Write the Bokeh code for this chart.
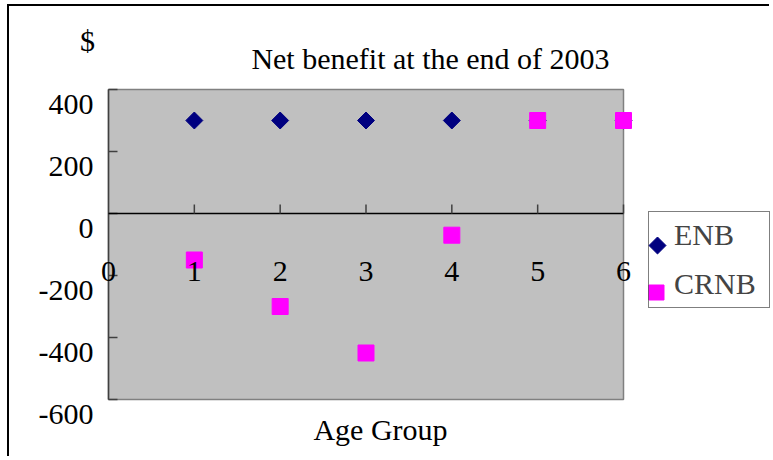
import math
from bokeh.plotting import figure
from bokeh.models import Legend, LegendItem, Range1d
from bokeh.core.properties import value
from bokeh.embed import file_html
from bokeh.resources import INLINE

# ---- data ----
age_group = [1, 2, 3, 4, 5, 6]
enb = [300, 300, 300, 300, 300, 300]
crnb = [-150, -300, -450, -70, 300, 300]
x_ticks = [0, 1, 2, 3, 4, 5, 6]
x_tick_labels = ["0", "1", "2", "3", "4", "5", "6"]
y_ticks = [400, 200, 0, -200, -400, -600]
y_tick_labels = ["400", "200", "0", "-200", "-400", "-600"]
title_text = "Net benefit at the end of 2003"
y_unit_text = "$"
x_title_text = "Age Group"
series_names = ["ENB", "CRNB"]

# ---- layout (pixels) ----
X_MIN, X_MAX = 0, 6
Y_MIN, Y_MAX = -600, 400
W, H = 762, 452            # canvas size
OX, OY = 9, 6              # canvas origin on the page
PLOT_L, PLOT_R = 108, 623  # plot area on the page
PLOT_T, PLOT_B = 89, 399

sx = (PLOT_R - PLOT_L) / (X_MAX - X_MIN)
sy = (PLOT_B - PLOT_T) / (Y_MAX - Y_MIN)
x_start = X_MIN - (PLOT_L - OX) / sx
y_end = Y_MAX + (PLOT_T - OY) / sy


def dx(px):
    return x_start + (px - OX) / sx


def dy(py):
    return y_end - (py - OY) / sy


FONT = value("Liberation Serif")
FS = value("30px")
AXIS_COLOR = "#404040"
ENB_COLOR = "#000080"
CRNB_COLOR = "#FF00FF"

p = figure(width=W, height=H,
           min_border_left=0, min_border_right=0,
           min_border_top=0, min_border_bottom=0,
           x_range=Range1d(x_start, x_start + W / sx),
           y_range=Range1d(y_end - H / sy, y_end),
           x_axis_location=None, y_axis_location=None,
           output_backend="svg", toolbar_location=None,
           background_fill_color="white", border_fill_color="white",
           outline_line_color=None,
           styles={"border-top": "2px solid black", "border-left": "2px solid black",
                   "margin-left": "7px", "margin-top": "4px"})
p.title = None
p.grid.grid_line_color = None

# plot area
p.quad(left=[X_MIN], right=[X_MAX], bottom=[Y_MIN], top=[Y_MAX],
       fill_color="#C0C0C0", line_color="#808080", line_width=1.5)

# y axis line and inward ticks
p.segment(x0=[X_MIN], y0=[Y_MIN], x1=[X_MIN], y1=[Y_MAX],
          line_color=AXIS_COLOR, line_width=1.5)
p.segment(x0=[X_MIN] * len(y_ticks), y0=y_ticks,
          x1=[X_MIN + 9 / sx] * len(y_ticks), y1=y_ticks,
          line_color=AXIS_COLOR, line_width=1.5)

# x axis on the zero line with upward ticks
p.segment(x0=[X_MIN], y0=[0], x1=[X_MAX], y1=[0], line_color="black", line_width=1.5)
p.segment(x0=x_ticks[1:], y0=[0] * 6, x1=x_ticks[1:], y1=[9 / sy] * 6,
          line_color=AXIS_COLOR, line_width=1.5)

# series
p.scatter(age_group, enb, marker="square", angle=math.pi / 4, size=12,
          fill_color=ENB_COLOR, line_color=ENB_COLOR)
p.scatter(age_group, crnb, marker="square", size=16,
          fill_color=CRNB_COLOR, line_color=CRNB_COLOR)

# tick labels
p.text(x=x_ticks, y=[dy(270.5) - dy(213)] * len(x_ticks), text=x_tick_labels,
       text_align="center", text_baseline="middle",
       text_font=FONT, text_font_size=FS, text_color="black")
p.text(x=[dx(93)] * len(y_ticks), y=[v - 14.5 / sy for v in y_ticks], text=y_tick_labels,
       text_align="right", text_baseline="middle",
       text_font=FONT, text_font_size=FS, text_color="black")

# titles
p.text(x=[dx(430)], y=[dy(57.5)], text=[title_text], text_align="center",
       text_baseline="middle", text_font=FONT, text_font_size=FS, text_color="black")
p.text(x=[dx(87)], y=[dy(40)], text=[y_unit_text], text_align="center",
       text_baseline="middle", text_font=FONT, text_font_size=FS, text_color="black")
p.text(x=[dx(380)], y=[dy(428.5)], text=[x_title_text], text_align="center",
       text_baseline="middle", text_font=FONT, text_font_size=FS, text_color="black")

# legend keys: full-size markers drawn behind a transparent Legend
p.scatter(x=[dx(657)], y=[dy(245)], marker="square", angle=math.pi / 4, size=12,
          fill_color=ENB_COLOR, line_color=ENB_COLOR)
p.scatter(x=[dx(656)], y=[dy(292)], marker="square", size=15,
          fill_color=CRNB_COLOR, line_color=CRNB_COLOR)
leg_enb = p.scatter(x=[], y=[], marker="square", fill_alpha=0, line_alpha=0)
leg_crnb = p.scatter(x=[], y=[], marker="square", fill_alpha=0, line_alpha=0)
LEG_L, LEG_B = 648, 308
legend = Legend(items=[LegendItem(label=series_names[0], renderers=[leg_enb]),
                       LegendItem(label=series_names[1], renderers=[leg_crnb])],
                location=(LEG_L - OX, H - (LEG_B - OY)),
                glyph_width=21, glyph_height=40,
                label_height=40, label_width=92, label_standoff=1,
                padding=3, spacing=9, margin=0,
                border_line_color="black", border_line_width=1.5,
                background_fill_alpha=0,
                label_text_font="Liberation Serif", label_text_font_size="30px")
p.add_layout(legend)

open("out.html", "w").write(file_html(p, INLINE))
